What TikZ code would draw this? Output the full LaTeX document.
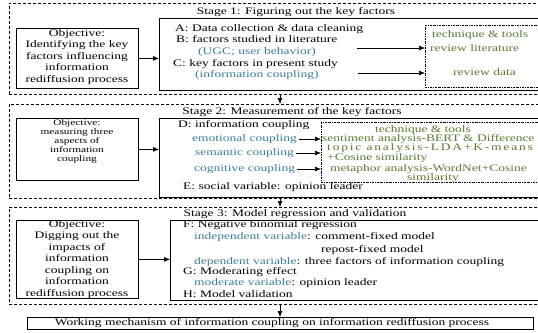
\documentclass[tikz,border=0pt]{standalone}
\usepackage{fontspec}
\setmainfont{Liberation Serif}[FakeStretch=1.35]
\usepackage{tikz}
\usetikzlibrary{arrows.meta,positioning,calc}
\definecolor{tealtxt}{HTML}{3A7F95}
\definecolor{olivetxt}{HTML}{5A7A30}

\begin{document}
\begin{tikzpicture}[x=1pt,y=-1pt,
    outbox/.style={draw, dash pattern=on 3pt off 2pt, line width=0.6pt, anchor=north west, inner sep=0pt},
    inbox/.style={draw, line width=0.8pt, anchor=north west, inner sep=0pt},
    techbox/.style={draw, dash pattern=on 2pt off 1pt on 0.6pt off 1pt, line width=0.6pt, anchor=north west, inner sep=0pt},
    txt/.style={anchor=west, inner sep=0pt, font=\fontsize{10}{11.5}\selectfont},
    objtxt/.style={align=center, inner sep=0pt, font=\fontsize{10}{11.5}\selectfont},
    tech/.style={txt, text=olivetxt},
    arr/.style={-{Latex[length=6pt,width=5pt]}, line width=0.6pt}]
    \useasboundingbox (0,0) rectangle (538,332);

    % Stage 1
    \node[outbox, minimum width=533pt, minimum height=91pt] (out1) at (9,3) {};
    \node[txt, anchor=center] (title1) at (296,12) {Stage 1: Figuring out the key factors};
    \node[inbox, minimum width=383pt, minimum height=72pt] (in1) at (159,18) {};
    \node[inbox, minimum width=122pt, minimum height=60pt] (obj1) at (16,28) {};
    \node[objtxt] (obj1t) at (77,57) {Objective:\\Identifying the key\\factors influencing\\information\\rediffusion process};
    \node[txt] (lA) at (175,29) {A: Data collection \& data cleaning};
    \node[txt] (lB) at (176,39) {B: factors studied in literature};
    \node[txt, text=tealtxt] (ugc) at (198,52) {(UGC; user behavior)};
    \node[txt] (lC) at (173,64) {C: key factors in present study};
    \node[txt, text=tealtxt] (infc) at (195,75) {(information coupling)};
    \node[techbox, minimum width=117pt, minimum height=62pt] (tech1) at (425,25) {};
    \node[tech] (tt1) at (432,35) {technique \& tools};
    \node[tech] (rlit) at (430,48) {review literature};
    \node[tech] (rdat) at (453,72) {review data};
    \coordinate (b1) at (357,48);
    \coordinate (c1) at (358,73);
    \draw[arr] (obj1.east) -- (obj1.east -| in1.west);
    \draw[arr] (b1) -- (b1 -| tech1.west);
    \draw[arr] (c1) -- (c1 -| tech1.west);

    % Stage 2
    \node[outbox, minimum width=533pt, minimum height=94pt] (out2) at (9,104) {};
    \node[txt, anchor=center] (title2) at (292,112) {Stage 2: Measurement of the key factors};
    \node[inbox, minimum width=383pt, minimum height=79pt] (in2) at (159,118) {};
    \node[inbox, minimum width=122pt, minimum height=62pt] (obj2) at (16,118) {};
    \node[objtxt, font=\fontsize{8.4}{9}\selectfont] (obj2t) at (77,141) {Objective:\\measuring three\\aspects of\\information\\coupling};
    \node[txt] (lD) at (178,125) {D: information coupling};
    \node[txt, text=tealtxt] (emo) at (192,139) {emotional coupling};
    \node[txt, text=tealtxt] (sem) at (195,153) {semantic coupling};
    \node[txt, text=tealtxt] (cog) at (194,169) {cognitive coupling};
    \node[txt] (lE) at (183,187) {E: social variable: opinion leader};
    \node[techbox, minimum width=221pt, minimum height=60pt] (tech2) at (321,122) {};
    \node[tech, anchor=center] (tt2) at (423,130) {technique \& tools};
    \node[tech] (bert) at (322,139) {sentiment analysis-BERT \& Difference};
    \node[tech] (lda) at (327,148) {\addfontfeatures{LetterSpace=18}topic analysis-LDA+K-means};
    \node[tech] (cos1) at (327,158) {+Cosine similarity};
    \node[tech] (wnet) at (330,169) {metaphor analysis-WordNet+Cosine};
    \node[tech, anchor=center] (cos2) at (433,178) {similarity};
    \draw[arr] (obj2.east) -- (obj2.east -| in2.west);
    \foreach \n in {emo,sem,cog}
        \draw[arr] ([xshift=2pt]\n.east) -- (\n.east -| tech2.west);

    % Stage 3
    \node[outbox, minimum width=533pt, minimum height=97pt] (out3) at (9,207) {};
    \node[txt, anchor=center] (title3) at (295,214) {Stage 3: Model regression and validation};
    \node[inbox, minimum width=372pt, minimum height=80pt] (in3) at (170,220) {};
    \node[inbox, minimum width=122pt, minimum height=78pt] (obj3) at (16,220) {};
    \node[objtxt] (obj3t) at (77,259.5) {Objective:\\Digging out the\\impacts of\\information\\coupling on\\information\\rediffusion process};
    \node[txt] (lF) at (183,225) {F: Negative binomial regression};
    \node[txt] (ind) at (194,237) {{\color{tealtxt}independent variable}: comment-fixed model};
    \node[txt] (rep) at (321,250) {repost-fixed model};
    \node[txt] (dep) at (194,262) {{\color{tealtxt}dependent variable}: three factors of information coupling};
    \node[txt] (lG) at (183,272) {G: Moderating effect};
    \node[txt] (mdr) at (194,283) {{\color{tealtxt}moderate variable}: opinion leader};
    \node[txt] (lH) at (183,294) {H: Model validation};
    \draw[arr] (obj3.east) -- (obj3.east -| in3.west);

    % result
    \node[inbox, minimum width=506pt, minimum height=12pt] (fin) at (27,317) {};
    \node[txt, anchor=center] (fint) at (272,323) {Working mechanism of information coupling on information rediffusion process};

    \coordinate (dn) at (280,0);
    \foreach \a/\b in {out1/out2, out2/out3, out3/fin}
        \draw[arr] (\a.south -| dn) -- (\b.north -| dn);
\end{tikzpicture}
\end{document}
